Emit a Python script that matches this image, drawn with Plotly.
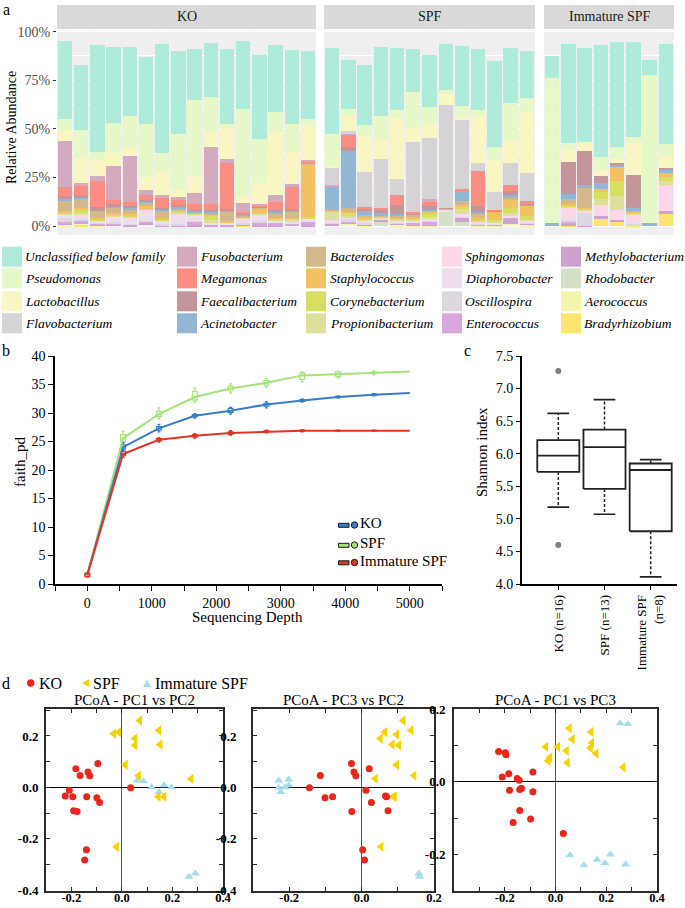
import plotly.graph_objects as go

W, H = 685, 908
SERIF = "Liberation Serif"


def fx(x):
    return x / W


def fy(y):
    return 1 - y / H


def dx(a, b):
    return [a / W, b / W]


def dy(top, bottom):
    return [1 - bottom / H, 1 - top / H]


# ---------------- panel a: relative abundance ----------------
ko_samples = ["KO%d" % i for i in range(1, 17)]
spf_samples = ["SPF%d" % i for i in range(1, 14)]
imm_samples = ["ISPF%d" % i for i in range(1, 9)]
facet_labels = ["KO", "SPF", "Immature SPF"]

taxa = ["Unclassified below family", "Pseudomonas", "Lactobacillus", "Flavobacterium",
        "Fusobacterium", "Megamonas", "Faecalibacterium", "Acinetobacter",
        "Bacteroides", "Staphylococcus", "Corynebacterium", "Propionibacterium",
        "Sphingomonas", "Diaphorobacter", "Oscillospira", "Enterococcus",
        "Methylobacterium", "Rhodobacter", "Aerococcus", "Bradyrhizobium"]
taxon_colors = ["#AFEBDA", "#E6F7C8", "#FAF6C3", "#D5D3D5",
                "#D4ABBE", "#FA8E82", "#C4969C", "#93B7D2",
                "#D3B88C", "#F2C162", "#D8DE62", "#DDDF9E",
                "#FDD6E7", "#EEDDEB", "#DDD8DF", "#D9A6DE",
                "#CEA2CE", "#D4E0C8", "#F2F5AA", "#FBE470"]

# values in %, order: KO1-16, SPF1-13, Immature SPF1-8
ab_unclassified = [40, 33.7, 54.6, 38.8, 35.6, 34.8, 56.1, 43, 26.4, 27.7, 38.6, 35.4, 43.1, 34.5, 37.9, 34.5,
                   43.9, 25.5, 31, 35.7, 31.8, 22.4, 26.8, 23.5, 30.9, 31.3, 44.2, 28.4, 24.1,
                   11.4, 51, 48.5, 57.5, 53.9, 48.5, 7.3, 51.3]
ab_pseudomonas = [5.4, 13.6, 4.1, 15.6, 16.1, 27.2, 9.7, 28.9, 38.8, 17.3, 1.7, 44.7, 22.6, 10.2, 14.8, 3.4,
                  16.5, 2.9, 6, 12.2, 4.2, 18.2, 9.3, 2.5, 5.9, 3.1, 6.7, 19.5, 7.3,
                  74.8, 3.4, 0.3, 6.5, 6.5, 3.4, 76.2, 6]
ab_lactobacillus = [5.9, 13.6, 8.2, 6.5, 4.3, 6.5, 11.9, 3.4, 9, 8.2, 16.2, 3.3, 11.1, 32.7, 16.5, 17.9,
                    0.5, 8.5, 18.3, 9.9, 31.5, 7.2, 6.7, 5.6, 0.9, 24.1, 16.6, 11.6, 31.5,
                    0, 6, 4.3, 3.2, 2, 16.5, 0, 6.4]
ab_flavobacterium = [0] * 16 + [9.7, 0.7, 17.8, 25, 8, 36.2, 31.1, 52.6, 35.7, 4.3, 8.9, 11.4, 14.4] + [0] * 8
ab_fusobacterium = [23.8, 0.8, 3, 17.8, 23.8, 2.9, 0.8, 1.4, 5.8, 29.2, 2.2, 4.9, 0.3, 3.6, 1.4, 0.5,
                    0.4, 0.5, 0, 0, 0, 0, 1.5, 0, 0, 0, 0, 0, 0] + [0] * 8
ab_megamonas = [4.3, 5.2, 13.1, 2.1, 2.2, 2.2, 5.6, 2.9, 2.7, 3.1, 23.3, 0.6, 0.7, 4, 11, 0.5,
                0.5, 6.7, 1.1, 1.2, 5.1, 0.8, 2.2, 0, 0.5, 18, 0.3, 2.9, 0.8] + [0] * 8
ab_faecalibacterium = [1, 0.8, 1.9, 0.8, 0.5, 0.5, 0.4, 0.4, 0.3, 0.8, 1.2, 0.3, 0.2, 0.6, 0.6, 0.3,
                       0, 2, 1.3, 1.5, 4.7, 0.3, 1.9, 0.3, 0, 2.9, 0.2, 2.2, 0.5,
                       0, 16.5, 17.5, 3.6, 0.5, 17, 0, 0.6]
ab_acinetobacter = [1, 1.4, 0, 1.2, 1.2, 1.1, 0.6, 1.5, 0.8, 0.8, 0.3, 1.2, 0.3, 0.8, 0.8, 0.3,
                    11.5, 29.3, 2, 1, 1.2, 0.2, 0.3, 0, 5.8, 0.8, 0.2, 1.2, 0.5,
                    1.4, 2.7, 0.6, 2.9, 1.7, 1, 1.7, 1.8]
ab_bacteroides = [6, 4.6, 4, 2.6, 2.2, 1.5, 4.4, 0.4, 0.4, 0.5, 4.8, 0.2, 0.3, 2.6, 3.4, 0.4,
                  0.3, 2.2, 0.5, 0.4, 0.3, 0.8, 1.2, 0.3, 2.2, 2, 0.2, 0.6, 0.2,
                  0, 2.4, 10.8, 0, 0, 0.5, 0, 0]
ab_staphylococcus = [0.4, 0.3, 0.5, 0.4, 0.4, 1, 0.4, 0.3, 0.2, 0.5, 0.4, 0.2, 2.7, 0.3, 0.3, 27.2,
                     0.4, 0.3, 0.8, 0.4, 0.8, 1, 0.5, 0.2, 0.3, 1, 4.5, 4.5, 5.4,
                     0, 0.5, 0.3, 1.7, 7.2, 0.5, 0, 2.2]
ab_corynebacterium = [0.5, 2.2, 0.2, 0.5, 0.9, 0.5, 0.3, 1, 0.5, 3, 0.2, 0.2, 0.2, 0.4, 0.3, 0.5,
                      0.3, 2, 0.8, 0.4, 0.6, 0.8, 2, 0, 1, 0.8, 0.5, 3, 2.1,
                      0, 0.5, 0.4, 3.4, 7.3, 0.5, 0, 2.1]
ab_propionibacterium = [0.4, 0.3, 0.2, 0.3, 0.3, 0.3, 0.3, 0.3, 0.3, 1, 0.2, 0.2, 0.2, 0.2, 0.8, 0.3,
                        4.5, 0.3, 0.3, 0.3, 0.3, 0.3, 0.3, 0, 3.2, 0.3, 0.3, 1, 0.3,
                        0, 0.6, 0.3, 3.1, 7.6, 0.5, 0, 2.2]
ab_sphingomonas = [0.4, 1, 0.3, 1, 0.5, 0.5, 0.3, 0.6, 0.5, 0.3, 0.2, 1, 0.8, 0.2, 0.2, 0.3,
                   0.7, 0.2, 0.3, 0.2, 0.3, 0.3, 0.3, 0.4, 0.3, 0.3, 0.5, 0.5, 0.2,
                   0, 5.8, 1.8, 5.9, 4.3, 3.8, 0, 13.1]
ab_diaphorobacter = [1.5, 2, 0.8, 2.5, 3.2, 5.5, 1.8, 5.3, 2.8, 0.6, 0.8, 1.8, 3, 1, 0.9, 1,
                     0.3, 0.5, 0.8, 0.3, 0.8, 0.5, 1.2, 0.4, 0.9, 0.7, 0.8, 0.3, 0.8,
                     0, 0.3, 0, 0, 0.4, 0.5, 0, 0]
ab_oscillospira = [2.3, 0.5, 0.2, 0.3, 0.2, 0.3, 0.2, 0.2, 0.2, 0.2, 0.1, 0.4, 0.2, 0.1, 0.2, 0.2,
                   0.2, 1.8, 0.8, 0.2, 0.2, 0.3, 0.3, 0.2, 0.2, 0.5, 0.2, 0.2, 0.2,
                   0, 1.8, 6.5, 0, 0, 0.5, 0, 0]
ab_enterococcus = [0.3, 0.8, 0.5, 0.3, 0.2, 0.5, 0.3, 0.3, 2.2, 0.2, 0.5, 0.2, 2.1, 1.8, 0.2, 2.2,
                   0, 0.3, 0.2, 0.2, 0.2, 1.5, 1.7, 0, 0.3, 0.2, 0.2, 0.2, 0.2,
                   0, 0.3, 0, 0, 0, 0, 0, 0]
ab_methylobacterium = [1.4, 0.5, 0.8, 1.3, 0.6, 0.6, 0.4, 0.4, 0.3, 0.6, 0.3, 0.3, 0.2, 0.2, 1.3, 0.2,
                       1.8, 0.3, 0.8, 1.2, 0.6, 0.2, 0.3, 0.2, 2.4, 0.2, 0.3, 3.2, 0.8,
                       0, 1, 0.2, 1, 0.9, 0.3, 0, 1.7]
ab_rhodobacter = [0] * 16 + [0, 0, 0, 2.2, 0, 0, 0, 7.5, 2.2, 0, 0, 0, 0] + [0] * 8
ab_aerococcus = [0.2, 1.3, 0.3, 0, 0, 1.3, 0, 0, 0, 0, 0, 0, 0, 0, 0, 0.1,
                 0, 1.6, 0.3, 0, 1, 0.3, 0.4, 0, 0, 0.5, 0.3, 1.1, 0.8] + [0] * 8
ab_bradyrhizobium = [0.2, 0.3, 0.2, 0, 0, 0, 0, 0, 0, 0, 0, 0.5, 0, 0, 0, 0] + [0] * 13 + \
                    [0, 0.7, 0, 4.1, 2.5, 1, 0, 6.1]

series = [ab_unclassified, ab_pseudomonas, ab_lactobacillus, ab_flavobacterium,
          ab_fusobacterium, ab_megamonas, ab_faecalibacterium, ab_acinetobacter,
          ab_bacteroides, ab_staphylococcus, ab_corynebacterium, ab_propionibacterium,
          ab_sphingomonas, ab_diaphorobacter, ab_oscillospira, ab_enterococcus,
          ab_methylobacterium, ab_rhodobacter, ab_aerococcus, ab_bradyrhizobium]

pct_ticks = [0, 25, 50, 75, 100]
pct_labels = ["0%", "25%", "50%", "75%", "100%"]

# ---------------- panel b: rarefaction (faith_pd) ----------------
depth = [1, 556, 1111, 1667, 2222, 2778, 3333, 3889, 4444, 5000]
ko_pd = [1.6, 24.0, 27.3, 29.5, 30.4, 31.5, 32.2, 32.8, 33.2, 33.5]
spf_pd = [1.6, 25.6, 29.8, 32.8, 34.3, 35.3, 36.6, 36.8, 37.1, 37.3]
imm_pd = [1.6, 22.8, 25.3, 26.0, 26.5, 26.7, 26.9, 26.9, 26.9, 26.9]

box_depth = [1, 556, 1111, 1667, 2222, 2778, 3333, 3889, 4444]
ko_q1 = [1.5, 23.7, 27.0, 29.35, 30.1, 31.2, 32.05, 32.7, 33.1]
ko_q3 = [1.7, 24.4, 27.6, 29.7, 30.8, 31.7, 32.35, 32.9, 33.3]
ko_lo = [1.4, 23.2, 26.7, 29.1, 29.8, 30.9, 31.9, 32.6, 33.0]
ko_hi = [1.8, 24.8, 28.0, 29.9, 31.0, 32.0, 32.5, 33.0, 33.4]
spf_q1 = [1.5, 25.0, 29.4, 32.3, 33.9, 34.9, 35.9, 36.4, 37.0]
spf_q3 = [1.7, 26.2, 30.3, 33.8, 34.7, 35.7, 37.0, 37.2, 37.2]
spf_lo = [1.4, 24.6, 29.0, 31.9, 33.5, 34.5, 35.5, 36.2, 36.7]
spf_hi = [1.8, 26.8, 30.9, 34.4, 35.1, 36.1, 37.2, 37.3, 37.4]
imm_q1 = [1.3, 22.5, 25.1, 25.8, 26.3, 26.6, 26.8, 26.85, 26.85]
imm_q3 = [1.9, 23.3, 25.5, 26.2, 26.7, 26.9, 27.0, 26.95, 26.95]
imm_lo = [1.2, 22.2, 24.9, 25.6, 26.1, 26.5, 26.7, 26.8, 26.8]
imm_hi = [2.0, 23.5, 25.7, 26.4, 26.9, 27.0, 27.1, 27.0, 27.0]

depth_ticks = [-500, 0, 500, 1000, 1500, 2000, 2500, 3000, 3500, 4000, 4500, 5000, 5500]
depth_labels = ["", "0", "", "1000", "", "2000", "", "3000", "", "4000", "", "5000", ""]
pd_ticks = [0, 5, 10, 15, 20, 25, 30, 35, 40]

# ---------------- panel c: Shannon index ----------------
shannon_groups = ["KO (n=16)", "SPF (n=13)", "Immature SPF<br>(n=8)"]
shannon_q1 = [5.72, 5.46, 4.81]
shannon_med = [5.97, 6.10, 5.75]
shannon_q3 = [6.21, 6.37, 5.85]
shannon_lo = [5.18, 5.07, 4.11]
shannon_hi = [6.62, 6.83, 5.91]
shannon_out_x = [1, 1]
shannon_out_y = [7.27, 4.60]
shannon_ticks = [4.0, 4.5, 5.0, 5.5, 6.0, 6.5, 7.0, 7.5]

# ---------------- panel d: PCoA ----------------
# PC1 vs PC2
d1_ko_x = [-0.224, -0.208, -0.194, -0.191, -0.177, -0.182, -0.165, -0.134, -0.127, -0.095, -0.139, -0.099, -0.088, -0.140, -0.147, 0.035]
d1_ko_y = [-0.033, -0.011, -0.036, -0.091, -0.094, 0.073, 0.046, 0.060, 0.045, 0.093, -0.036, -0.040, -0.059, -0.243, -0.282, -0.001]
d1_spf_x = [-0.032, -0.012, 0.071, 0.052, 0.052, 0.147, 0.151, 0.014, 0.066, 0.274, 0.144, 0.167, -0.021]
d1_spf_y = [0.209, 0.215, 0.260, 0.190, 0.164, 0.222, 0.167, 0.088, 0.046, 0.033, -0.036, -0.036, -0.231]
d1_imm_x = [0.061, 0.086, 0.118, 0.147, 0.167, 0.196, 0.266, 0.291]
d1_imm_y = [0.027, 0.024, 0.001, -0.018, 0.008, 0.001, -0.348, -0.335]
# PC3 vs PC2
d2_ko_x = [-0.144, -0.114, -0.101, -0.080, -0.028, -0.021, -0.016, -0.027, 0.012, 0.021, 0.027, 0.066, 0.073, 0.003, 0.008, 0.069]
d2_ko_y = [-0.001, 0.046, -0.040, -0.036, 0.093, 0.060, 0.045, -0.094, -0.011, 0.073, -0.059, -0.033, -0.091, -0.243, -0.282, -0.036]
d2_spf_x = [0.115, 0.137, 0.064, 0.097, 0.052, 0.085, 0.103, 0.097, 0.145, 0.038, 0.088, 0.091, 0.054]
d2_spf_y = [0.260, 0.222, 0.215, 0.206, 0.190, 0.167, 0.164, 0.088, 0.046, 0.034, -0.036, -0.036, -0.231]
d2_imm_x = [-0.229, -0.229, -0.223, -0.211, -0.201, -0.201, 0.158, 0.160]
d2_imm_y = [0.027, -0.001, -0.018, 0.001, 0.031, 0.008, -0.335, -0.348]
# PC1 vs PC3
d3_ko_x = [-0.224, -0.198, -0.195, -0.210, -0.184, -0.151, -0.143, -0.134, -0.141, -0.181, -0.089, -0.089, -0.141, -0.167, -0.098, 0.031]
d3_ko_y = [0.083, 0.080, 0.074, 0.013, 0.022, 0.009, 0.004, -0.018, -0.021, -0.023, -0.027, 0.027, -0.079, -0.112, -0.102, -0.142]
d3_spf_x = [-0.038, 0.009, 0.055, 0.066, 0.043, -0.022, -0.029, 0.047, 0.141, 0.143, 0.138, 0.160, 0.267]
d3_spf_y = [0.096, 0.096, 0.147, 0.117, 0.085, 0.066, 0.058, 0.053, 0.137, 0.107, 0.093, 0.078, 0.040]
d3_imm_x = [0.255, 0.285, 0.057, 0.112, 0.164, 0.195, 0.216, 0.276]
d3_imm_y = [0.161, 0.159, -0.202, -0.229, -0.214, -0.223, -0.200, -0.227]

pcoa_titles = ["PCoA - PC1 vs PC2", "PCoA - PC3 vs PC2", "PCoA - PC1 vs PC3"]
d1_xticks = [-0.3, -0.2, -0.1, 0.0, 0.1, 0.2, 0.3, 0.4]
d1_xlabels = ["", "-0.2", "", "0.0", "", "0.2", "", "0.4"]
d2_xticks = [-0.3, -0.2, -0.1, 0.0, 0.1, 0.2]
d2_xlabels = ["", "-0.2", "", "0.0", "", "0.2"]
d3_xticks = [-0.4, -0.3, -0.2, -0.1, 0.0, 0.1, 0.2, 0.3, 0.4]
d3_xlabels = ["", "", "-0.2", "", "0.0", "", "0.2", "", "0.4"]
d12_yticks = [-0.4, -0.3, -0.2, -0.1, 0.0, 0.1, 0.2, 0.3]
d12_ylabels = ["-0.4", "", "-0.2", "", "0.0", "", "0.2", ""]
d3_yticks = [-0.3, -0.2, -0.1, 0.0, 0.1, 0.2]
d3_ylabels = ["", "-0.2", "", "0.0", "", "0.2"]

KO_RED = "#E8261E"
SPF_YEL = "#F3D400"
IMM_BLUE = "#A8DCEC"

fig = go.Figure()

# ---- panel a bars (bottom of stack first) ----
facets = [(ko_samples, 0, 16, "x", "y"), (spf_samples, 16, 29, "x2", "y2"), (imm_samples, 29, 37, "x3", "y3")]
for name, color, vals in reversed(list(zip(taxa, taxon_colors, series))):
    for samples, a, b, xa, ya in facets:
        fig.add_trace(go.Bar(x=samples, y=vals[a:b], name=name, width=0.89,
                             marker=dict(color=color, line=dict(width=0)),
                             xaxis=xa, yaxis=ya, showlegend=False, hoverinfo="skip"))

# ---- panel b ----
for vals, q1, q3, lo, hi, col in [(spf_pd, spf_q1, spf_q3, spf_lo, spf_hi, "#A6E27A"),
                                  (ko_pd, ko_q1, ko_q3, ko_lo, ko_hi, "#3B7DC4"),
                                  (imm_pd, imm_q1, imm_q3, imm_lo, imm_hi, "#E0362A")]:
    fig.add_trace(go.Scatter(x=depth, y=vals, mode="lines", line=dict(color=col, width=2),
                             xaxis="x4", yaxis="y4", showlegend=False, hoverinfo="skip"))
    fig.add_trace(go.Box(x=box_depth, q1=q1, median=vals[:len(box_depth)], q3=q3,
                         lowerfence=lo, upperfence=hi, width=75, whiskerwidth=0.6,
                         line=dict(color=col, width=1.2), fillcolor="white",
                         boxpoints=False, xaxis="x4", yaxis="y4", showlegend=False, hoverinfo="skip"))

# ---- panel c ----
BW, CW = 0.455, 0.235
for i in range(3):
    xc = i + 1
    fig.add_trace(go.Scatter(x=[xc, xc], y=[shannon_q3[i], shannon_hi[i]], mode="lines",
                             line=dict(color="#222", width=1.5, dash="3px,2px"),
                             xaxis="x5", yaxis="y5", showlegend=False, hoverinfo="skip"))
    fig.add_trace(go.Scatter(x=[xc, xc], y=[shannon_q1[i], shannon_lo[i]], mode="lines",
                             line=dict(color="#222", width=1.5, dash="3px,2px"),
                             xaxis="x5", yaxis="y5", showlegend=False, hoverinfo="skip"))
    for yy in (shannon_hi[i], shannon_lo[i]):
        fig.add_trace(go.Scatter(x=[xc - CW, xc + CW], y=[yy, yy], mode="lines",
                                 line=dict(color="#222", width=1.6),
                                 xaxis="x5", yaxis="y5", showlegend=False, hoverinfo="skip"))
    fig.add_trace(go.Scatter(x=[xc - BW, xc + BW, xc + BW, xc - BW, xc - BW],
                             y=[shannon_q1[i], shannon_q1[i], shannon_q3[i], shannon_q3[i], shannon_q1[i]],
                             mode="lines", line=dict(color="#222", width=1.8),
                             xaxis="x5", yaxis="y5", showlegend=False, hoverinfo="skip"))
    fig.add_trace(go.Scatter(x=[xc - BW, xc + BW], y=[shannon_med[i], shannon_med[i]], mode="lines",
                             line=dict(color="#222", width=1.8),
                             xaxis="x5", yaxis="y5", showlegend=False, hoverinfo="skip"))
fig.add_trace(go.Scatter(x=shannon_out_x, y=shannon_out_y, mode="markers",
                         marker=dict(color="#808080", size=6), xaxis="x5", yaxis="y5",
                         showlegend=False, hoverinfo="skip"))

# ---- panel d ----
pcoa_sets = [
    ("x6", "y6", d1_ko_x, d1_ko_y, d1_spf_x, d1_spf_y, d1_imm_x, d1_imm_y),
    ("x7", "y7", d2_ko_x, d2_ko_y, d2_spf_x, d2_spf_y, d2_imm_x, d2_imm_y),
    ("x8", "y8", d3_ko_x, d3_ko_y, d3_spf_x, d3_spf_y, d3_imm_x, d3_imm_y),
]
for xa, ya, kx, ky, sx, sy, ix, iy in pcoa_sets:
    fig.add_trace(go.Scatter(x=ix, y=iy, mode="markers",
                             marker=dict(symbol="triangle-up", size=8, color=IMM_BLUE),
                             xaxis=xa, yaxis=ya, showlegend=False, hoverinfo="skip"))
    fig.add_trace(go.Scatter(x=sx, y=sy, mode="markers",
                             marker=dict(symbol="triangle-left", size=9, color=SPF_YEL),
                             xaxis=xa, yaxis=ya, showlegend=False, hoverinfo="skip"))
    fig.add_trace(go.Scatter(x=kx, y=ky, mode="markers",
                             marker=dict(symbol="circle", size=7, color=KO_RED),
                             xaxis=xa, yaxis=ya, showlegend=False, hoverinfo="skip"))

layout = dict(
    width=W, height=H, margin=dict(l=0, r=0, t=0, b=0),
    template="none", paper_bgcolor="white", plot_bgcolor="rgba(0,0,0,0)",
    font=dict(family=SERIF, size=14, color="black"),
    barmode="stack", boxmode="overlay", showlegend=False,
)

# panel a axes
bar_axes = [("xaxis", "yaxis", "x", "y", 57, 316, ko_samples),
            ("xaxis2", "yaxis2", "x2", "y2", 324, 535, spf_samples),
            ("xaxis3", "yaxis3", "x3", "y3", 544, 674, imm_samples)]
shapes = []
annotations = []
for i, (xk, yk, xs, ys, a, b, samples) in enumerate(bar_axes):
    layout[xk] = dict(domain=dx(a, b), anchor=ys, type="category", range=[-0.5, len(samples) - 0.5],
                      showticklabels=False, ticks="", showgrid=False, zeroline=False, showline=False)
    layout[yk] = dict(domain=dy(30.5, 235), anchor=xs, range=[-4.6, 100.6],
                      tickvals=pct_ticks, ticktext=pct_labels, showticklabels=(i == 0),
                      ticks="outside" if i == 0 else "", ticklen=3, tickcolor="#333333", tickwidth=1,
                      tickfont=dict(family=SERIF, size=14, color="#4D4D4D"),
                      showgrid=True, gridcolor="white", gridwidth=1.2, zeroline=False, showline=False,
                      minor=dict(tickvals=[12.5, 37.5, 62.5, 87.5], showgrid=True, gridcolor="white",
                                 gridwidth=0.6, ticks=""))
    shapes.append(dict(type="rect", xref=xs + " domain", yref=ys + " domain", x0=0, x1=1, y0=0, y1=1,
                       fillcolor="#EFEFEF", line=dict(width=0), layer="below"))
    shapes.append(dict(type="rect", xref="paper", yref="paper", x0=fx(a), x1=fx(b), y0=fy(29), y1=fy(5),
                       fillcolor="#D9D9D9", line=dict(width=0), layer="below"))
    annotations.append(dict(x=fx((a + b) / 2), y=fy(17), xref="paper", yref="paper", text=facet_labels[i],
                            showarrow=False, font=dict(family=SERIF, size=14, color="#1A1A1A"),
                            xanchor="center", yanchor="middle"))

annotations.append(dict(x=fx(12), y=fy(128), xref="paper", yref="paper", text="Relative Abundance",
                        textangle=-90, showarrow=False, font=dict(family=SERIF, size=14),
                        xanchor="center", yanchor="middle"))

# panel a legend
leg_key_x = [2, 177, 306, 442, 561]
leg_text_x = [24, 199, 329, 464, 583]
leg_row_y = [256.7, 278.3, 301.3, 323.3]
for k, (name, color) in enumerate(zip(taxa, taxon_colors)):
    c, r = k // 4, k % 4
    shapes.append(dict(type="rect", xref="paper", yref="paper",
                       x0=fx(leg_key_x[c]), x1=fx(leg_key_x[c] + 20),
                       y0=fy(leg_row_y[r] + 10), y1=fy(leg_row_y[r] - 10),
                       fillcolor=color, line=dict(width=0)))
    annotations.append(dict(x=fx(leg_text_x[c]), y=fy(leg_row_y[r]), xref="paper", yref="paper",
                            text="<i>%s</i>" % name, showarrow=False, xanchor="left", yanchor="middle",
                            font=dict(family=SERIF, size=13.5, color="black"), borderpad=0))

# panel b axes
layout["xaxis4"] = dict(domain=dx(55, 442), anchor="y4", range=[-500, 5500], tickvals=depth_ticks,
                        ticktext=depth_labels, ticks="outside", ticklen=5, tickwidth=1.2, tickcolor="black",
                        showline=True, linecolor="black", linewidth=1.5, showgrid=False, zeroline=False,
                        tickfont=dict(family=SERIF, size=14))
layout["yaxis4"] = dict(domain=dy(356, 584), anchor="x4", range=[0, 40], tickvals=pd_ticks,
                        ticks="outside", ticklen=5, tickwidth=1.2, tickcolor="black",
                        showline=True, linecolor="black", linewidth=1.5, showgrid=False, zeroline=False,
                        tickfont=dict(family=SERIF, size=14))
annotations.append(dict(x=fx(20), y=fy(462), xref="paper", yref="paper", text="faith_pd", textangle=-90,
                        showarrow=False, font=dict(family=SERIF, size=15), xanchor="center", yanchor="middle"))
annotations.append(dict(x=fx(247), y=fy(617), xref="paper", yref="paper", text="Sequencing Depth",
                        showarrow=False, font=dict(family=SERIF, size=15), xanchor="center", yanchor="middle"))
# panel b legend
for name, col, yc in [("KO", "#3B7DC4", 525), ("SPF", "#A6E27A", 545), ("Immature SPF", "#E0362A", 562.5)]:
    shapes.append(dict(type="rect", xref="paper", yref="paper", x0=fx(338.5), x1=fx(349),
                       y0=fy(yc + 2.3), y1=fy(yc - 1.7), fillcolor=col, line=dict(color="#1A1A1A", width=1)))
    shapes.append(dict(type="circle", xref="paper", yref="paper", x0=fx(351.3), x1=fx(357.7),
                       y0=fy(yc + 3.2), y1=fy(yc - 3.2), fillcolor=col, line=dict(color="#1A1A1A", width=1)))
    annotations.append(dict(x=fx(359.5), y=fy(yc - 2), xref="paper", yref="paper", text=name,
                            showarrow=False, xanchor="left", yanchor="middle",
                            font=dict(family=SERIF, size=15), borderpad=0))

# panel c axes
layout["xaxis5"] = dict(domain=dx(521.7, 676.7), anchor="y5", range=[0.208, 3.563], tickvals=[1, 2, 3],
                        ticktext=shannon_groups, tickangle=-90, ticks="outside", ticklen=4, tickcolor="black",
                        showline=True, linecolor="black", linewidth=1.5, showgrid=False, zeroline=False,
                        tickfont=dict(family=SERIF, size=13))
layout["yaxis5"] = dict(domain=dy(356, 584), anchor="x5", range=[4.0, 7.5], tickvals=shannon_ticks,
                        tickformat=".1f", ticks="outside", ticklen=4, tickcolor="black",
                        showline=True, linecolor="black", linewidth=1.5, showgrid=False, zeroline=False,
                        tickfont=dict(family=SERIF, size=14))
annotations.append(dict(x=fx(482), y=fy(452), xref="paper", yref="paper", text="Shannon index", textangle=-90,
                        showarrow=False, font=dict(family=SERIF, size=15), xanchor="center", yanchor="middle"))

# panel d axes
pcoa_axes = [("xaxis6", "yaxis6", "x6", "y6", 46, 223, [-0.3, 0.4], [-0.403, 0.305], d1_xticks, d1_xlabels, d12_yticks, d12_ylabels, 3),
             ("xaxis7", "yaxis7", "x7", "y7", 253, 434, [-0.3, 0.2], [-0.403, 0.305], d2_xticks, d2_xlabels, d12_yticks, d12_ylabels, 12),
             ("xaxis8", "yaxis8", "x8", "y8", 454, 657, [-0.4, 0.4], [-0.3, 0.2], d3_xticks, d3_xlabels, d3_yticks, d3_ylabels, 4)]
bold_font = dict(family=SERIF, size=13, color="black", weight="bold")
for j, (xk, yk, xs, ys, a, b, xr, yr, xt, xl, yt, yl, stand) in enumerate(pcoa_axes):
    layout[xk] = dict(domain=dx(a, b), anchor=ys, range=xr, tickvals=xt, ticktext=xl, ticks="inside",
                      ticklen=4, tickcolor="#2B2B2B", tickwidth=1.2, mirror="allticks", showline=True,
                      linecolor="#2B2B2B", linewidth=2, showgrid=False, zeroline=True,
                      zerolinecolor="#555555", zerolinewidth=1, tickfont=dict(bold_font, size=12.5),
                      ticklabelstandoff=-6)
    layout[yk] = dict(domain=dy(709, 891), anchor=xs, range=yr, tickvals=yt, ticktext=yl, ticks="inside",
                      ticklen=4, tickcolor="#2B2B2B", tickwidth=1.2, mirror="allticks", showline=True,
                      linecolor="#2B2B2B", linewidth=2, showgrid=False, zeroline=True,
                      zerolinecolor="black", zerolinewidth=1, tickfont=bold_font, ticklabelstandoff=stand)
    annotations.append(dict(x=fx((a + b) / 2), y=fy(700), xref="paper", yref="paper", text=pcoa_titles[j],
                            showarrow=False, font=dict(family=SERIF, size=15), xanchor="center", yanchor="middle"))

# panel d legend
shapes.append(dict(type="circle", xref="paper", yref="paper", x0=fx(27), x1=fx(34.4), y0=fy(686.7), y1=fy(679.3),
                   fillcolor=KO_RED, line=dict(width=0)))
shapes.append(dict(type="path", xref="paper", yref="paper",
                   path="M %f %f L %f %f L %f %f Z" % (fx(82), fy(683), fx(89.5), fy(679), fx(89.5), fy(687)),
                   fillcolor=SPF_YEL, line=dict(width=0)))
shapes.append(dict(type="path", xref="paper", yref="paper",
                   path="M %f %f L %f %f L %f %f Z" % (fx(143), fy(687), fx(151), fy(687), fx(147), fy(679.5)),
                   fillcolor=IMM_BLUE, line=dict(width=0)))
for txt, xl in [("KO", 38), ("SPF", 92), ("Immature SPF", 154)]:
    annotations.append(dict(x=fx(xl), y=fy(683), xref="paper", yref="paper", text=txt, showarrow=False,
                            xanchor="left", yanchor="middle", font=dict(family=SERIF, size=16), borderpad=0))

# panel letters
for letter, xl, yl in [("a", 6, 9), ("b", 6, 350), ("c", 467, 350), ("d", 6, 683)]:
    annotations.append(dict(x=fx(xl), y=fy(yl), xref="paper", yref="paper", text=letter, showarrow=False,
                            xanchor="center", yanchor="middle", font=dict(family=SERIF, size=16)))

layout["shapes"] = shapes
layout["annotations"] = annotations
fig.update_layout(**layout)
fig.write_html("out.html", config={"displayModeBar": False},
               post_script="document.body.style.margin='0px';document.body.style.overflow='hidden';")
